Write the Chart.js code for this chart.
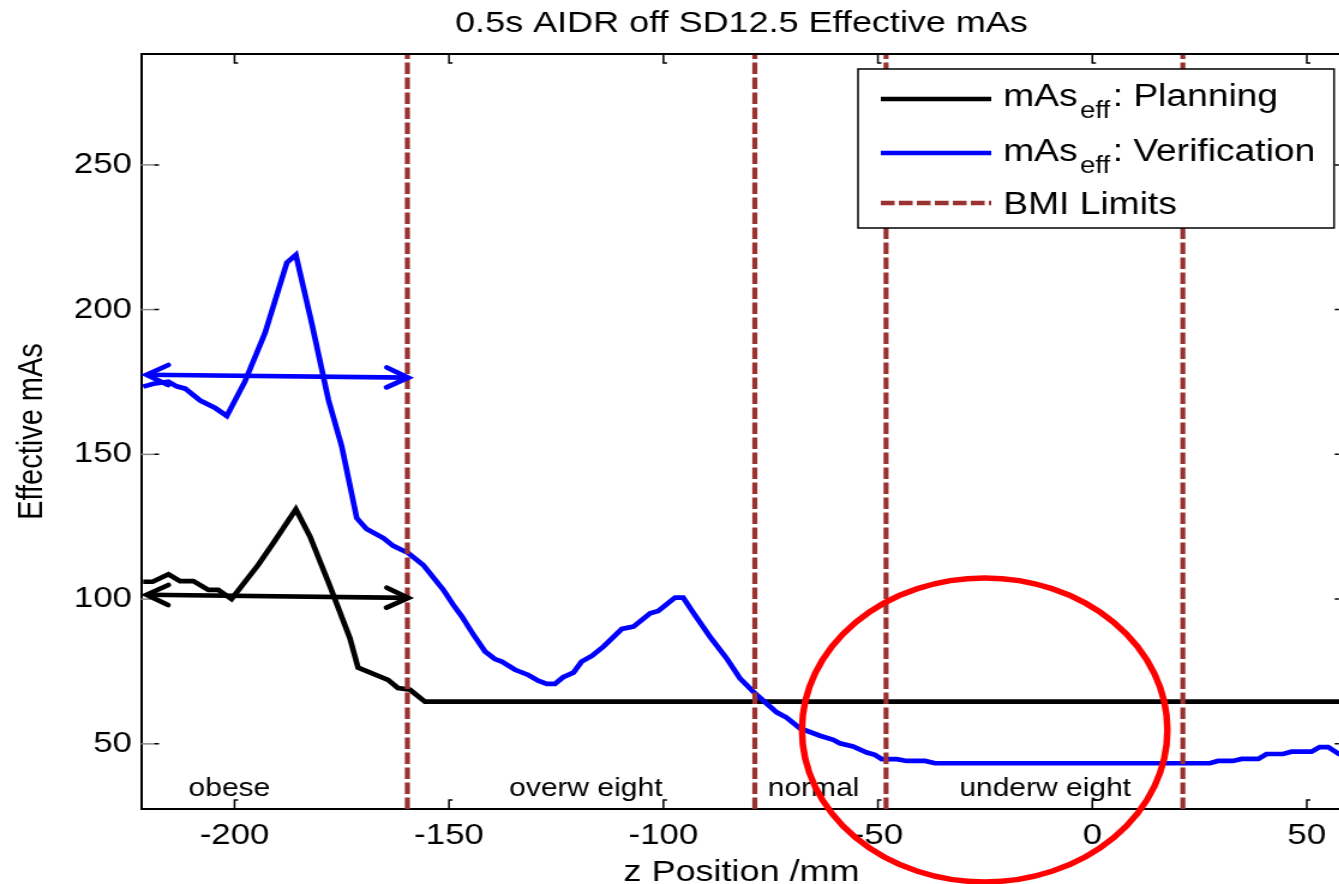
<!DOCTYPE html>
<html>
<head>
<meta charset="utf-8">
<script src="https://cdn.jsdelivr.net/npm/chart.js@4.4.0/dist/chart.umd.min.js"></script>
<style>
  html, body { margin: 0; padding: 0; overflow: hidden; background: #fff; }
  /* the original figure is stretched sideways, so the whole canvas is too */
  #wrap { width: 1125px; height: 900px; transform: scaleX(1.2); transform-origin: 0 0; }
</style>
</head>
<body>
<div id="wrap"><canvas id="chart" width="1125" height="900"></canvas></div>
<script>
// ---- data ----
const xTicks = [-200, -150, -100, -50, 0, 50];
const yTicks = [50, 100, 150, 200, 250];

const planX = [-221.3, -219.1, -215.4, -212.7, -209.6, -206.1, -203.8, -200.7, -194.5, -191.0,
  -185.7, -182.4, -177.7, -173.1, -171.2, -164.2, -161.9, -159.1, -155.6, 58.5];
const planY = [106.0, 106.0, 108.6, 106.2, 106.2, 103.2, 103.2, 100.0, 111.8, 119.3,
  131.0, 121.6, 104.3, 86.5, 76.3, 72.1, 69.3, 68.7, 64.6, 64.6];

const verifX = [-221.3, -218.9, -215.4, -213.5, -211.5, -208.0, -204.5, -201.8, -197.6, -192.9,
  -187.8, -185.7, -182.0, -178.1, -175.0, -171.5, -169.2, -165.3, -163.0, -159.5,
  -156.0, -151.3, -149.0, -147.0, -144.3, -141.6, -139.3, -137.7, -134.6, -131.5,
  -129.2, -127.2, -125.3, -123.4, -121.0, -119.1, -116.7, -114.0, -109.7, -107.0,
  -103.1, -101.2, -97.3, -95.4, -93.1, -89.2, -85.3, -82.2, -78.7, -73.6,
  -71.3, -68.2, -63.5, -60.4, -58.9, -55.8, -52.6, -50.7, -49.1, -45.6,
  -43.3, -39.0, -36.7, 27.4, 29.3, 32.8, 34.8, 38.7, 40.6, 44.5,
  46.4, 51.1, 53.0, 55.0, 57.5, 58.5];
const verifY = [173.4, 174.4, 175.1, 173.5, 172.7, 168.6, 166.0, 163.3, 175.1, 191.9,
  216.2, 218.9, 195.3, 168.8, 152.7, 128.0, 124.2, 121.1, 118.4, 115.9,
  111.8, 103.2, 98.0, 94.0, 87.7, 81.9, 79.3, 78.4, 75.6, 73.8,
  71.8, 70.7, 70.7, 73.0, 74.6, 78.4, 80.4, 83.6, 89.7, 90.5,
  95.1, 95.9, 100.5, 100.5, 95.4, 87.1, 79.6, 72.7, 67.5, 60.9,
  59.1, 55.4, 52.8, 51.4, 50.2, 49.1, 47.0, 46.2, 44.7, 44.7,
  44.1, 44.1, 43.3, 43.3, 44.1, 44.1, 44.8, 44.8, 46.5, 46.5,
  47.3, 47.3, 48.9, 48.9, 46.5, 46.0];

const bmiLimits = [-159.7, -78.7, -48.1, 21.1];
const bmiClasses = ['obese', 'overw eight', 'normal', 'underw eight'];
const bmiLabelX = [-201.2, -118.1, -65.0, -11.0];

// hand-drawn arrows and circle
const blueArrowX = [-220.5, -159.5];
const blueArrowY = [177.5, 176.5];
const blackArrowX = [-220.5, -159.5];
const blackArrowY = [101.5, 100.4];
const circleCenter = [-25.1, 54.8];
const circleRadius = [42.6, 52.5];

const xMin = -221.8, xMax = 58.2;
const yMin = 27.5, yMax = 288.3;

const FONT = "'Liberation Sans', Arial, Helvetica, sans-serif";
const BMI_COLOR = '#9b3232';
const LINE_W = 4.7;

const toPts = (xs, ys) => xs.map((x, i) => ({ x: x, y: ys[i] }));

// Draws the things Chart.js has no option for: box, inner ticks, title,
// class labels, arrow heads, the red circle and the MATLAB-style legend
const figureExtras = {
  id: 'figureExtras',
  afterDraw(chart) {
    const ctx = chart.ctx;
    const xs = chart.scales.x, ys = chart.scales.y;
    const { left, right, top, bottom } = chart.chartArea;

    ctx.save();
    // top and right edges of the box
    ctx.strokeStyle = '#000';
    ctx.lineWidth = 2;
    ctx.beginPath();
    ctx.moveTo(left, top); ctx.lineTo(right, top); ctx.lineTo(right, bottom);
    ctx.stroke();

    // inward ticks
    ctx.lineWidth = 1.5;
    xTicks.forEach(v => {
      const px = xs.getPixelForValue(v);
      ctx.beginPath();
      ctx.moveTo(px, bottom); ctx.lineTo(px, bottom - 9); ctx.lineTo(px + 3, bottom - 9);
      ctx.moveTo(px, top); ctx.lineTo(px, top + 9); ctx.lineTo(px + 3, top + 9);
      ctx.stroke();
    });
    yTicks.forEach(v => {
      const py = ys.getPixelForValue(v);
      ctx.strokeStyle = '#888';
      ctx.beginPath();
      ctx.moveTo(left, py); ctx.lineTo(left + 11, py);
      ctx.stroke();
      ctx.strokeStyle = '#000';
      ctx.beginPath();
      ctx.moveTo(left + 11, py); ctx.lineTo(left + 15, py);
      ctx.moveTo(right - 6, py); ctx.lineTo(right - 2.5, py);
      ctx.stroke();
    });

    // title
    ctx.fillStyle = '#000';
    ctx.font = `30px ${FONT}`;
    ctx.textAlign = 'center';
    ctx.textBaseline = 'alphabetic';
    ctx.fillText('0.5s AIDR off SD12.5 Effective mAs', (left + right) / 2, 32);

    // BMI class names along the bottom
    ctx.font = `25px ${FONT}`;
    bmiClasses.forEach((name, i) => {
      ctx.fillText(name, xs.getPixelForValue(bmiLabelX[i]), ys.getPixelForValue(32.0));
    });

    // arrow heads
    const heads = [[blueArrowX, blueArrowY, '#0000ff'], [blackArrowX, blackArrowY, '#000']];
    heads.forEach(([ax, ay, color]) => {
      const p0 = { x: xs.getPixelForValue(ax[0]), y: ys.getPixelForValue(ay[0]) };
      const p1 = { x: xs.getPixelForValue(ax[1]), y: ys.getPixelForValue(ay[1]) };
      ctx.strokeStyle = color;
      ctx.lineWidth = LINE_W;
      ctx.lineCap = 'round';
      [[p0, p1], [p1, p0]].forEach(([tip, from]) => {
        const dx = tip.x - from.x, dy = tip.y - from.y;
        const len = Math.hypot(dx, dy);
        const ux = dx / len, uy = dy / len;
        ctx.beginPath();
        ctx.moveTo(tip.x - ux * 18 - uy * 10, tip.y - uy * 18 + ux * 10);
        ctx.lineTo(tip.x, tip.y);
        ctx.lineTo(tip.x - ux * 18 + uy * 10, tip.y - uy * 18 - ux * 10);
        ctx.stroke();
      });
    });

    // red circle
    const cx = xs.getPixelForValue(circleCenter[0]);
    const cy = ys.getPixelForValue(circleCenter[1]);
    const rx = Math.abs(xs.getPixelForValue(circleCenter[0] + circleRadius[0]) - cx);
    const ry = Math.abs(ys.getPixelForValue(circleCenter[1] + circleRadius[1]) - cy);
    ctx.strokeStyle = '#ff0000';
    ctx.lineWidth = 5.5;
    ctx.beginPath();
    ctx.ellipse(cx, cy, rx, ry, 0, 0, Math.PI * 2);
    ctx.stroke();

    // legend
    const lx0 = 715, lx1 = 1111.7, ly0 = 69, ly1 = 228;
    ctx.fillStyle = '#fff';
    ctx.fillRect(lx0, ly0, lx1 - lx0, ly1 - ly0);
    ctx.strokeStyle = '#000';
    ctx.lineWidth = 1.5;
    ctx.lineCap = 'butt';
    ctx.strokeRect(lx0, ly0, lx1 - lx0, ly1 - ly0);

    const rows = [
      { parts: [['mAs', 0], ['eff', 1], [': Planning', 0]], color: '#000', dash: [], base: 106, lineY: 99 },
      { parts: [['mAs', 0], ['eff', 1], [': Verification', 0]], color: '#0000ff', dash: [], base: 161, lineY: 153 },
      { parts: [['BMI Limits', 0]], color: BMI_COLOR, dash: [11.5, 3.5], base: 214, lineY: 203 }
    ];
    ctx.textAlign = 'left';
    rows.forEach(r => {
      ctx.strokeStyle = r.color;
      ctx.lineWidth = LINE_W;
      ctx.setLineDash(r.dash);
      ctx.beginPath();
      ctx.moveTo(734, r.lineY); ctx.lineTo(826, r.lineY);
      ctx.stroke();
      ctx.setLineDash([]);
      ctx.fillStyle = '#000';
      let tx = 836;
      r.parts.forEach(([t, sub]) => {
        ctx.font = sub ? `23px ${FONT}` : `31px ${FONT}`;
        if (sub) tx += 2;
        ctx.fillText(t, tx, r.base + (sub ? 12 : 0));
        tx += ctx.measureText(t).width + (sub ? 2 : 0);
      });
    });
    ctx.restore();
  }
};

new Chart(document.getElementById('chart'), {
  type: 'line',
  data: {
    datasets: [
      ...bmiLimits.map(x => ({
        data: [{ x: x, y: yMin }, { x: x, y: yMax }],
        borderColor: BMI_COLOR, borderWidth: 4.2, borderDash: [11.5, 3.5], order: 1
      })),
      { label: 'Verification', data: toPts(verifX, verifY), borderColor: '#0000ff', borderWidth: LINE_W, order: 2 },
      { label: 'Planning', data: toPts(planX, planY), borderColor: '#000', borderWidth: LINE_W, order: 3 },
      { data: toPts(blueArrowX, blueArrowY), borderColor: '#0000ff', borderWidth: LINE_W, order: 0 },
      { data: toPts(blackArrowX, blackArrowY), borderColor: '#000', borderWidth: LINE_W, order: 0 }
    ]
  },
  options: {
    responsive: false,
    animation: false,
    devicePixelRatio: 1,
    layout: { padding: { top: 54, right: 6.7, bottom: 0, left: 0 } },
    elements: { point: { radius: 0 }, line: { tension: 0, fill: false } },
    plugins: { legend: { display: false }, tooltip: { enabled: false } },
    scales: {
      x: {
        type: 'linear',
        min: xMin, max: xMax,
        afterBuildTicks: s => { s.ticks = xTicks.map(v => ({ value: v })); },
        afterFit: s => { s.height = 91; },
        grid: { display: false, drawTicks: false },
        border: { display: true, color: '#000', width: 2 },
        ticks: { color: '#000', font: { family: FONT, size: 29 }, padding: 10, maxRotation: 0, autoSkip: false, callback: v => String(v) },
        title: { display: true, text: 'z Position /mm', color: '#000', font: { family: FONT, size: 30 }, padding: { top: 0, bottom: 9 } }
      },
      y: {
        min: yMin, max: yMax,
        afterBuildTicks: s => { s.ticks = yTicks.map(v => ({ value: v })); },
        afterFit: s => { s.width = 117.5; },
        grid: { display: false, drawTicks: false },
        border: { display: true, color: '#000', width: 2 },
        ticks: { color: '#000', font: { family: FONT, size: 29 }, padding: 7.5, callback: v => String(v) },
        title: { display: true, text: 'Effective mAs', color: '#000', font: { family: FONT, size: 29 }, padding: { top: 10, bottom: 0 } }
      }
    }
  },
  plugins: [figureExtras]
});
</script>
</body>
</html>
